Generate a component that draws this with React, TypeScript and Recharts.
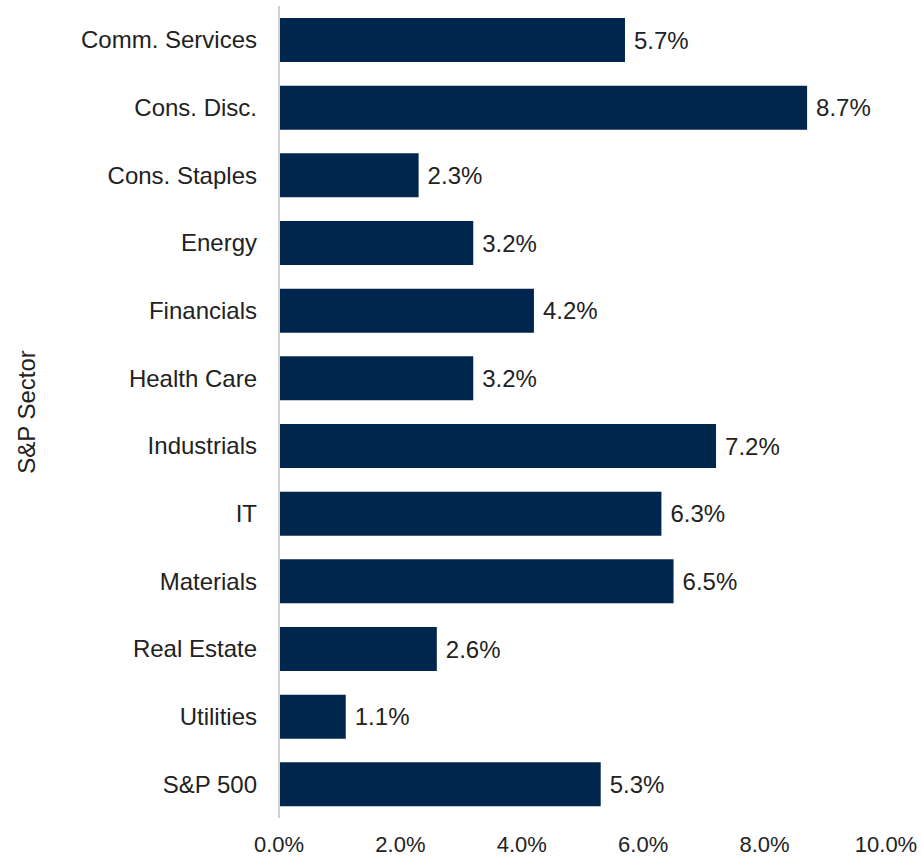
import React from "react";
import { BarChart, Bar, XAxis, YAxis, LabelList } from "recharts";

const sectors = ["Comm. Services","Cons. Disc.","Cons. Staples","Energy","Financials","Health Care","Industrials","IT","Materials","Real Estate","Utilities","S&P 500"];
const values = [5.7,8.7,2.3,3.2,4.2,3.2,7.2,6.3,6.5,2.6,1.1,5.3];
const ticks = [0,2,4,6,8,10];
const data = sectors.map((s,i)=>({s, v: values[i]}));
const font = "'Liberation Sans', Arial, sans-serif";

export default function App() {
  return (
    <div style={{position:"absolute",left:0,top:0,fontFamily:font}}>
      <BarChart width={922} height={858} data={data} layout="vertical" margin={{top:6,right:36,bottom:0,left:0}}>
        <XAxis type="number" domain={[0,10]} ticks={ticks} tickFormatter={(v)=>v.toFixed(1)+"%"} axisLine={false} tickLine={false} height={40} tick={{fill:"#222",fontSize:22,fontFamily:font}} tickMargin={12} interval={0}/>
        <YAxis type="category" dataKey="s" width={279} axisLine={{stroke:"#d0d0d0",strokeWidth:2}} tickLine={false} tick={{fill:"#222",fontSize:24,fontFamily:font}} tickMargin={16} interval={0}
          label={{value:"S&P Sector",angle:-90,position:"insideLeft",offset:26,style:{fill:"#222",fontSize:24,fontFamily:font,textAnchor:"middle"}}}/>
        <Bar dataKey="v" fill="#00264D" barSize={44} isAnimationActive={false}>
          <LabelList dataKey="v" position="right" offset={9} formatter={(v)=>Number(v).toFixed(1)+"%"} style={{fill:"#222",fontSize:24,fontFamily:font}}/>
        </Bar>
      </BarChart>
    </div>
  );
}
